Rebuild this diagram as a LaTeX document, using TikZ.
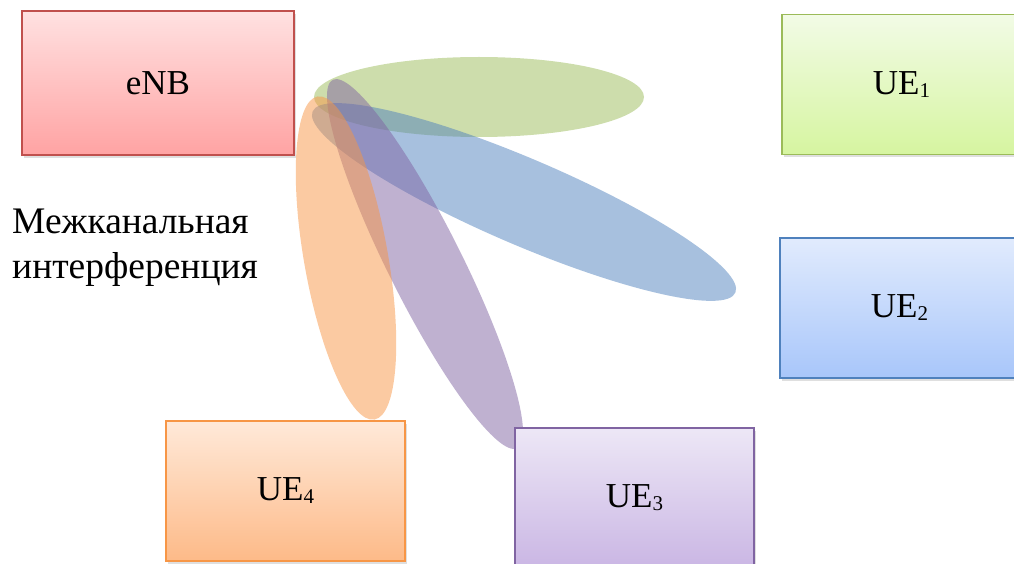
\documentclass[tikz,border=0pt]{standalone}
\usepackage{fontspec}
\setmainfont{Liberation Serif}
\usetikzlibrary{shapes.geometric}
\usetikzlibrary{shadows}

\definecolor{enbline}{HTML}{C0504D}
\definecolor{greenline}{HTML}{9BBB59}
\definecolor{blueline}{HTML}{4F81BD}
\definecolor{purpleline}{HTML}{8064A2}
\definecolor{orangeline}{HTML}{F79646}
\definecolor{enbtop}{HTML}{FFE1E1}
\definecolor{enbbot}{HTML}{FFA3A3}
\definecolor{greentop}{HTML}{F2FBE6}
\definecolor{greenbot}{HTML}{D6F5A0}
\definecolor{bluetop}{HTML}{E1EBFD}
\definecolor{bluebot}{HTML}{A8C6FA}
\definecolor{purpletop}{HTML}{EDE7F6}
\definecolor{purplebot}{HTML}{CAB6E4}
\definecolor{orangetop}{HTML}{FFE9D9}
\definecolor{orangebot}{HTML}{FDBA88}

\newcommand\uesub[1]{\raisebox{-3pt}{\fontsize{21}{21}\selectfont #1}}

\begin{document}
\begin{tikzpicture}[x=1pt, y=-1pt,
        X/.style={line width=1.6pt, inner sep=0pt, outer sep=0pt,
            minimum width=239pt, minimum height=140pt,
            font=\fontsize{35}{42}\selectfont,
            drop shadow={shadow xshift=2pt, shadow yshift=-3pt, opacity=0.25}},
        R/.style={X, draw=enbline, top color=enbtop, bottom color=enbbot},
        G/.style={X, draw=greenline, top color=greentop, bottom color=greenbot},
        B/.style={X, draw=blueline, top color=bluetop, bottom color=bluebot},
        P/.style={X, draw=purpleline, top color=purpletop, bottom color=purplebot},
        O/.style={X, draw=orangeline, top color=orangetop, bottom color=orangebot},
        beam/.style={ellipse, draw=none, inner sep=0pt, fill opacity=0.5}
    ]
    \useasboundingbox (0,0) rectangle (1014,564);

    % beams from the base station
    \node[beam, fill=greenline, minimum width=330pt, minimum height=80pt] (beam1) at (479,97) {};
    \node[beam, fill=blueline, minimum width=460pt, minimum height=86pt, rotate=-23.2] (beam2) at (524,202) {};
    \node[beam, fill=purpleline, minimum width=412pt, minimum height=74pt, rotate=-63.4] (beam3) at (425,264) {};
    \node[beam, fill=orangeline, minimum width=328pt, minimum height=84pt, rotate=-80] (beam4) at (346,258) {};

    \node[R, minimum width=272pt, minimum height=144pt] (enb) at (158,83) {eNB};
    \node[G] (ue1) at (901.5,84.5) {UE\uesub{1}};
    \node[B] (ue2) at (899.5,308) {UE\uesub{2}};
    \node[P] (ue3) at (634.5,498) {UE\uesub{3}};
    \node[O] (ue4) at (285.5,491) {UE\uesub{4}};

    \node[anchor=base west, align=left, inner sep=0pt,
        font=\fontsize{37.5}{45}\selectfont] (ici) at (12,278) {Межканальная\\интерференция};
\end{tikzpicture}
\end{document}
